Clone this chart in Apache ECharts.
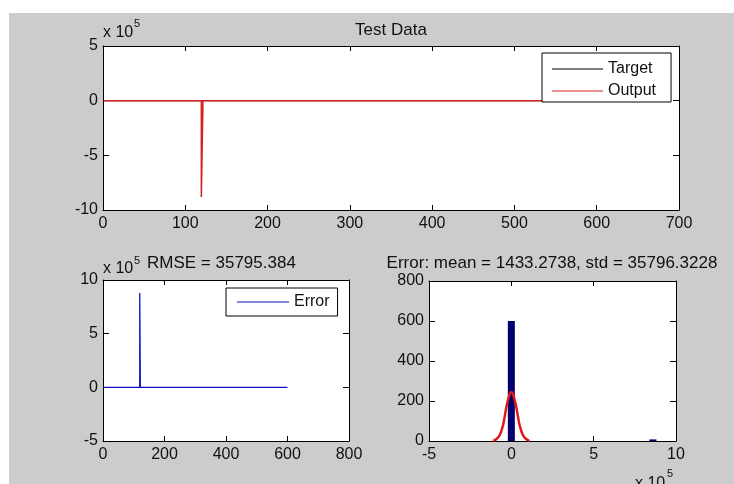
<!DOCTYPE html>
<html>
<head>
<meta charset="utf-8">
<script src="https://cdn.jsdelivr.net/npm/echarts@6/dist/echarts.min.js"></script>
<style>
html,body{margin:0;padding:0;background:#fff;}
#bg{position:absolute;left:9px;top:13px;width:725px;height:471px;background:#cccccc;}
#chart{position:absolute;left:0;top:0;width:734px;height:484px;}
</style>
</head>
<body>
<div id="bg"></div>
<div id="chart"></div>
<script>
// ---- data ----
const sampleX = [1, 119.5, 119.5, 120.5, 121.5, 121.5, 600];
const targetY = [0, 0, 0, 0, 0, 0, 0];
const outputY = [0, 0, -880000, -430000, -430000, 0, 0];
const errorY  = [0, 0, 880000, 430000, 430000, 0, 0];

const histX = [0, 860000];
const histY = [600, 8];

const fitX = [-110000, -90000, -70000, -50000, -30000, -10000, 0, 10000, 30000, 50000, 70000, 90000, 110000];
const fitY = [0, 10, 30, 80, 170, 235, 245, 235, 170, 80, 30, 10, 0];

const titleTop = 'Test Data';
const titleRmse = 'RMSE = 35795.384';
const titleHist = 'Error: mean = 1433.2738, std = 35796.3228';

// ---- build ----
const FONT = "'Liberation Sans', Arial, sans-serif";
const TXT = '#111';
const pairs = (xs, ys) => xs.map((x, i) => [x, ys[i]]);
const scaleFmt = v => String(Math.round(v / 1e5));

function axisPair(gi, min, max, interval, fmt, isX, tickLen) {
  const base = {
    type: 'value', gridIndex: gi, min, max, interval,
    axisLine: {show: true, onZero: false, lineStyle: {color: '#000', width: 1}},
    axisTick: {show: true, inside: true, length: tickLen, lineStyle: {color: '#000'}},
    splitLine: {show: false}
  };
  const main = Object.assign({}, base, {
    position: isX ? 'bottom' : 'left',
    axisLabel: {show: true, color: TXT, fontSize: 16, fontFamily: FONT, margin: isX ? 6 : 5,
      formatter: fmt || (v => String(v)), showMinLabel: true, showMaxLabel: true}
  });
  const sec = Object.assign({}, base, {
    position: isX ? 'top' : 'right',
    axisLabel: {show: false}
  });
  return [main, sec];
}

const xA = [], yA = [];
// grid 0 (top)
xA.push(...axisPair(0, 0, 700, 100, null, true, 5));
yA.push(...axisPair(0, -1000000, 500000, 500000, scaleFmt, false, 6));
// grid 1 (bottom left)
xA.push(...axisPair(1, 0, 800, 200, null, true, 5));
yA.push(...axisPair(1, -500000, 1000000, 500000, scaleFmt, false, 6));
// grid 2 (bottom right)
xA.push(...axisPair(2, -500000, 1000000, 500000, scaleFmt, true, 5));
yA.push(...axisPair(2, 0, 800, 200, null, false, 6));

const legendText = {color: TXT, fontSize: 16, fontFamily: FONT, lineHeight: 16};

function txt(text, x, y, size, align, va) {
  return {type: 'text', x, y, z: 100,
    style: {text, fill: TXT, fontSize: size, fontFamily: FONT, align: align || 'left', verticalAlign: va || 'middle'}};
}

const option = {
  backgroundColor: 'transparent',
  animation: false,
  grid: [
    {left: 103, top: 46, width: 576, height: 164, show: true, backgroundColor: '#fff', borderWidth: 0, outerBoundsMode: 'none'},
    {left: 103, top: 280, width: 246, height: 161, show: true, backgroundColor: '#fff', borderWidth: 0, outerBoundsMode: 'none'},
    {left: 429, top: 281, width: 247, height: 160, show: true, backgroundColor: '#fff', borderWidth: 0, outerBoundsMode: 'none'}
  ],
  xAxis: xA,
  yAxis: yA,
  legend: [
    {data: ['Target', 'Output'], left: 542, top: 53, orient: 'vertical', icon: 'rect', itemWidth: 51, itemHeight: 1,
     itemGap: 6, padding: [8, 15, 3, 10], borderColor: '#000', borderWidth: 1, backgroundColor: '#fff',
     textStyle: legendText, selectedMode: false},
    {data: ['Error'], left: 226, top: 288, orient: 'vertical', icon: 'rect', itemWidth: 52, itemHeight: 1,
     padding: [6, 8, 6, 11], borderColor: '#000', borderWidth: 1, backgroundColor: '#fff',
     textStyle: legendText, selectedMode: false}
  ],
  series: [
    {name: 'Target', type: 'line', xAxisIndex: 0, yAxisIndex: 0, data: pairs(sampleX, targetY), symbol: 'none',
     lineStyle: {color: '#000', width: 1}, itemStyle: {color: '#000'}},
    {name: 'Output', type: 'line', xAxisIndex: 0, yAxisIndex: 0, data: pairs(sampleX, outputY), symbol: 'none',
     lineStyle: {color: '#d42020', width: 1.5}, itemStyle: {color: '#d42020'}},
    {name: 'Error', type: 'line', xAxisIndex: 2, yAxisIndex: 2, data: pairs(sampleX, errorY), symbol: 'none',
     lineStyle: {color: '#1010c8', width: 1.3}, itemStyle: {color: '#1010c8'}},
    {name: 'Hist', type: 'bar', xAxisIndex: 4, yAxisIndex: 4, data: pairs(histX, histY), barWidth: 7,
     itemStyle: {color: '#00006e'}},
    {name: 'Fit', type: 'line', xAxisIndex: 4, yAxisIndex: 4, data: pairs(fitX, fitY), symbol: 'none', smooth: 0.3,
     lineStyle: {color: '#e01818', width: 2.5}, itemStyle: {color: '#e01818'}, z: 5}
  ],
  graphic: [
    txt(titleTop, 391, 30, 17, 'center'),
    txt('x 10', 103, 33, 16),
    txt('5', 134, 24, 11),
    txt('x 10', 103, 269, 16),
    txt('5', 134, 261, 11),
    txt(titleRmse, 147, 263, 17),
    txt(titleHist, 552, 263, 17, 'center'),
    txt('x 10', 635, 484, 16),
    txt('5', 667, 474, 11)
  ]
};

const chart = echarts.init(document.getElementById('chart'), null, {renderer: 'canvas'});
chart.setOption(option);
</script>
</body>
</html>
